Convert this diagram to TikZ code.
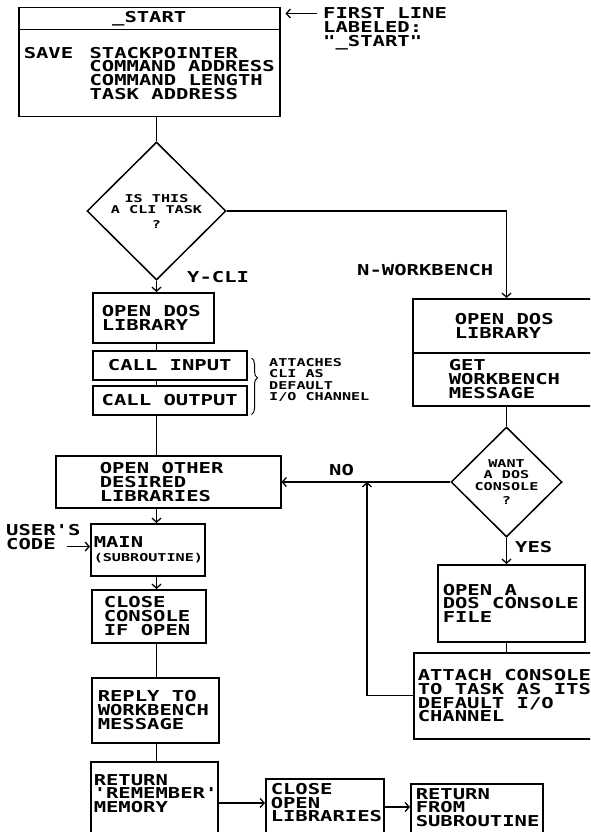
\documentclass[tikz,border=0pt]{standalone}
\usepackage{fontspec}
\usetikzlibrary{shapes.geometric,arrows.meta,decorations.pathreplacing}
\newfontfamily\pixfont[FakeStretch=1.37]{DejaVu Sans Mono}
\newfontfamily\pixsmall[FakeStretch=1.4]{DejaVu Sans Mono}
\newcommand\bigtxt{\pixfont\bfseries\fontsize{15}{13.8}\selectfont}
\newcommand\smalltxt{\pixsmall\bfseries\fontsize{10.8}{11.5}\selectfont}

\begin{document}
\begin{tikzpicture}[x=1pt,y=-1pt,
  blk/.style={draw, line width=1.5pt, font=\bigtxt, align=flush left, inner ysep=2pt, anchor=north west},
  ctr/.style={blk, align=center, inner xsep=0pt},
  dec/.style={draw, diamond, line width=1.5pt, font=\smalltxt, align=center, inner sep=0pt, aspect=1},
  lbl/.style={font=\bigtxt, inner sep=0pt, anchor=west},
  ln/.style={line width=1.3pt},
  arr/.style={ln, -{Straight Barb[length=4pt,width=9pt]}}]
  \useasboundingbox (0,0) rectangle (590,832);
  \clip (0,0) rectangle (590,832);
  % entry block
  \node[ctr, minimum width=261pt, minimum height=22pt] (hdr) at (18,7) {\_START};
  \node[blk, inner xsep=5pt, text width=251pt, minimum height=87pt] (save) at (18,29)
    {SAVE\hspace{4pt} STACKPOINTER\\\phantom{SAVE}\hspace{4pt} COMMAND~ADDRESS\\\phantom{SAVE}\hspace{4pt} COMMAND~LENGTH\\\phantom{SAVE}\hspace{4pt} TASK~ADDRESS};
  \node[lbl, anchor=north west, align=left] (note) at (323,7.5) {FIRST LINE\\LABELED:\\"\_START"};
  \coordinate (fl) at ([xshift=-6pt,yshift=-6pt]note.north west);
  \draw[arr] (fl) -- ([xshift=5pt]fl -| hdr.east);
  % CLI test
  \node[dec, minimum width=139pt, minimum height=138pt] (cli) at (156.5,211) {IS THIS\\A CLI TASK\\[3pt]?};
  \draw[ln] (save.south -| cli.north) -- (cli.north);
  % CLI branch
  \node[blk, inner xsep=9pt, text width=103pt, minimum height=50pt] (dos1) at (92,292) {OPEN DOS\\LIBRARY};
  \draw[arr] (cli.south) -- (cli.south |- dos1.north);
  \node[lbl] (ycli) at (187,277) {Y-CLI};
  \node[ctr, minimum width=154pt, minimum height=29pt] (cin) at (92,350) {CALL INPUT};
  \node[ctr, minimum width=154pt, minimum height=29pt] (cout) at (92,385) {CALL OUTPUT};
  \draw[ln] (dos1.south -| cli.south) -- (cin.north -| cli.south);
  \draw[ln] (cin.south -| cli.south) -- (cout.north -| cli.south);
  \draw[decorate, decoration={brace, amplitude=6pt, aspect=0.35}, line width=1pt]
    ([xshift=4pt,yshift=-8pt]cin.north east) -- ([xshift=4pt,yshift=1pt]cout.south east);
  \node[font=\smalltxt, align=left, anchor=north west, inner sep=0pt] (att) at (269,358) {ATTACHES\\CLI AS\\DEFAULT\\I/O CHANNEL};
  % common path
  \node[blk, inner xsep=44pt, text width=137pt, minimum height=52pt] (other) at (55,455) {OPEN OTHER\\DESIRED\\LIBRARIES};
  \draw[ln] (cout.south -| cli.south) -- (other.north -| cli.south);
  \node[blk, inner xsep=3pt, text width=108pt, minimum height=52pt] (main) at (90,523) {MAIN\\{\smalltxt (SUBROUTINE)}};
  \draw[arr] (other.south -| cli.south) -- (main.north -| cli.south);
  \node[lbl, anchor=north west, align=left] (usr) at (6,524) {USER'S\\CODE};
  \coordinate (uc) at ([xshift=-14pt,yshift=3pt]usr.south east);
  \draw[arr] (uc) -- (uc -| main.west);
  \node[blk, inner xsep=12pt, text width=90pt, minimum height=53pt] (closec) at (91,589) {CLOSE\\CONSOLE\\IF OPEN};
  \draw[arr] (main.south -| cli.south) -- (closec.north -| cli.south);
  \node[blk, inner xsep=6pt, text width=115pt, minimum height=65pt] (reply) at (91,677) {REPLY TO\\WORKBENCH\\MESSAGE};
  \draw[ln] (closec.south -| cli.south) -- (reply.north -| cli.south);
  \node[blk, inner xsep=3pt, inner ysep=12.5pt, text width=121pt, text depth=60pt] (retmem) at (90,761) {RETURN\\'REMEMBER'\\MEMORY};
  \draw[ln] (reply.south -| cli.south) -- (retmem.north -| cli.south);
  \node[blk, inner xsep=5pt, inner ysep=4.5pt, text width=108pt, text depth=60pt] (closelib) at (265,778) {CLOSE\\OPEN\\LIBRARIES};
  \node[blk, inner xsep=5pt, inner ysep=4.5pt, text width=122pt, text depth=60pt] (retsub) at (410,783) {RETURN\\FROM\\SUBROUTINE};
  \coordinate (r1) at ([yshift=-42pt]retmem.north east);
  \draw[arr] (r1) -- (r1 -| closelib.west);
  \coordinate (r2) at ([yshift=-29pt]closelib.north east);
  \draw[arr] (r2) -- (r2 -| retsub.west);
  % workbench branch
  \node[blk, inner xsep=42pt, text width=112pt, minimum height=54pt] (dos2) at (412,298) {OPEN DOS\\LIBRARY};
  \node[blk, inner xsep=36pt, text width=124pt, minimum height=53pt] (getwb) at (412,352) {GET\\WORKBENCH\\MESSAGE};
  \node[dec, minimum width=111pt, minimum height=110pt] (con) at (506.5,482) {WANT\\A DOS\\CONSOLE\\[3pt]?};
  \draw[arr] (cli.east) -| (con.north |- dos2.north);
  \node[lbl] (nwb) at (357,270) {N-WORKBENCH};
  \draw[ln] (getwb.south -| con.north) -- (con.north);
  \node[blk, inner xsep=5pt, text width=137pt, minimum height=77pt] (opencon) at (437,564) {OPEN A\\DOS CONSOLE\\FILE};
  \draw[arr] (con.south) -- (con.south |- opencon.north);
  \node[lbl] (yes) at (515,547) {YES};
  \node[blk, inner xsep=4pt, text width=187pt, minimum height=86pt] (attach) at (413,652) {ATTACH CONSOLE\\TO TASK AS ITS\\DEFAULT I/O\\CHANNEL};
  \draw[ln] (opencon.south -| con.south) -- (attach.north -| con.south);
  % no console
  \draw[arr] (con.west) -- (con.west -| other.east);
  \node[lbl] (no) at (329,470) {NO};
  \coordinate (jn) at (367,482);
  \draw[arr] (attach.west) -| (jn);
\end{tikzpicture}
\end{document}
